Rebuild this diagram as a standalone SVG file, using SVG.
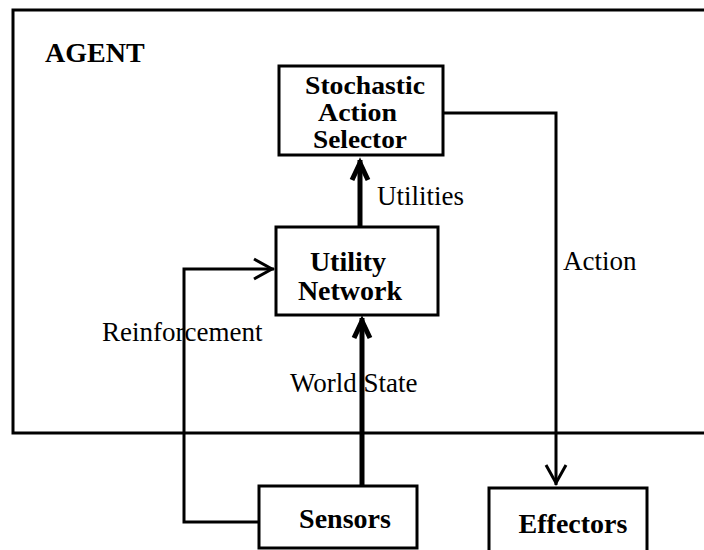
<svg xmlns="http://www.w3.org/2000/svg" width="704" height="550" viewBox="0 0 704 550">
<style>
  .box { fill: #fff; stroke: #000; stroke-width: 3; }
  .frame { fill: none; stroke: #000; stroke-width: 3; }
  .thin { fill: none; stroke: #000; stroke-width: 3; }
  .thick { fill: none; stroke: #000; stroke-width: 5; }
  .nl { font-family: "Liberation Serif", "Times New Roman", serif; font-weight: bold; font-size: 28px; fill: #000; }
  .sl { font-family: "Liberation Serif", "Times New Roman", serif; font-weight: bold; font-size: 26px; fill: #000; }
  .el { font-family: "Liberation Serif", "Times New Roman", serif; font-size: 27px; fill: #000; }
</style>
<defs>
  <marker id="vThin" markerUnits="userSpaceOnUse" viewBox="-24 -14 28 28" refX="2" refY="0" markerWidth="28" markerHeight="28" orient="auto" overflow="visible">
    <path d="M -18 -10 L 0 0 L -18 10" fill="none" stroke="#000" stroke-width="3"/>
  </marker>
  <marker id="vThick" markerUnits="userSpaceOnUse" viewBox="-24 -14 28 28" refX="3" refY="0" markerWidth="28" markerHeight="28" orient="auto" overflow="visible">
    <path d="M -17 -8 L 0 0 L -17 8" fill="none" stroke="#000" stroke-width="5"/>
  </marker>
</defs>
<rect width="704" height="550" fill="#fff"/>

<g id="agent">
  <path class="frame" d="M 706 10 H 13 V 433 H 706"/>
  <text class="nl" x="45" y="62">AGENT</text>
</g>

<g id="connectors">
  <path class="thick" d="M 360 227 V 160" marker-end="url(#vThick)"/>
  <path class="thick" d="M 362 486 V 318" marker-end="url(#vThick)"/>
  <path class="thin" d="M 259 522 H 184 V 269 H 274" marker-end="url(#vThin)"/>
  <path class="thin" d="M 443 113 H 556 V 485" marker-end="url(#vThin)"/>
  <text class="el" x="377" y="205">Utilities</text>
  <text class="el" x="563" y="270">Action</text>
  <text class="el" x="102" y="341">Reinforcement</text>
  <text class="el" x="290" y="392">World State</text>
</g>

<g id="selector">
  <rect class="box" x="279" y="66" width="164" height="89"/>
  <text class="sl" x="305" y="94" textLength="120" lengthAdjust="spacingAndGlyphs">Stochastic</text>
  <text class="sl" x="318" y="121" textLength="79" lengthAdjust="spacingAndGlyphs">Action</text>
  <text class="sl" x="313" y="148" textLength="94" lengthAdjust="spacingAndGlyphs">Selector</text>
</g>

<g id="utility">
  <rect class="box" x="276" y="227" width="162" height="88"/>
  <text class="nl" x="348" y="271" text-anchor="middle">Utility</text>
  <text class="nl" x="350" y="300" text-anchor="middle">Network</text>
</g>

<g id="sensors">
  <rect class="box" x="259" y="486" width="158" height="62"/>
  <text class="nl" x="345" y="528" text-anchor="middle">Sensors</text>
</g>

<g id="effectors">
  <rect class="box" x="489" y="488" width="158" height="72"/>
  <text class="nl" x="573" y="533" text-anchor="middle">Effectors</text>
</g>
</svg>
